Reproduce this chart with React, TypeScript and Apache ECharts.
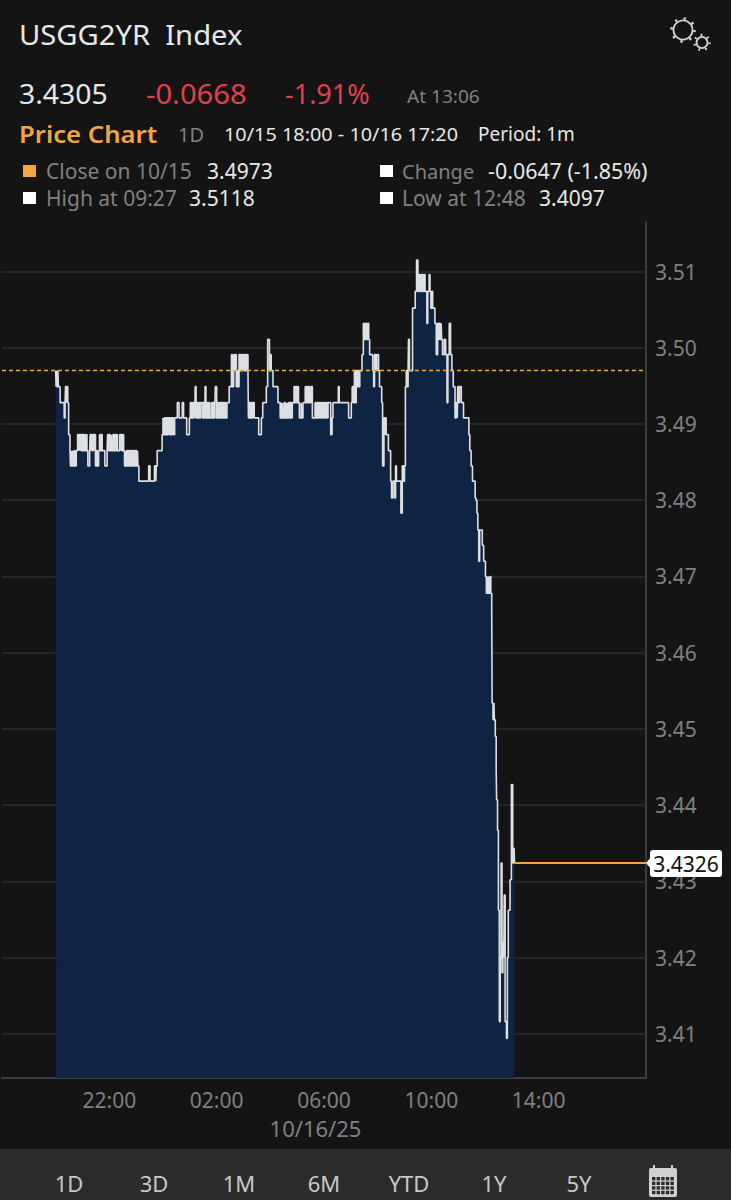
import React, { useEffect, useRef } from "react";
import * as echarts from "echarts";

// minutes since 10/15 18:00, yield
const overnightA: [number, number][] = [
  [120,3.497],[121,3.4949],[122,3.497],[123,3.4949],[125,3.497],[126,3.4949],[130,3.4928],[139,3.4908],[141,3.4928],[142,3.4949],[144,3.4928],[145,3.4949],[147,3.4928],[149,3.4886],[152,3.4865],[153,3.4845],[155,3.4865],[156,3.4845],[158,3.4865],[159,3.4845],[161,3.4865],[163,3.4845],[166,3.4865],[169,3.4886],[171,3.4865],[172,3.4886],[174,3.4865],[175,3.4886],[177,3.4865],[179,3.4886],[181,3.4865],[183,3.4886],[185,3.4865],[188,3.4886],[190,3.4865],[192,3.4845],[196,3.4865],[197,3.4886],[199,3.4865],[200,3.4886],[202,3.4865],[204,3.4886],[206,3.4865],[207,3.4886],[209,3.4845],[211,3.4865],[213,3.4845],[216,3.4865],[218,3.4886],[220,3.4865],[222,3.4886],[224,3.4865],[226,3.4865],[230,3.4845],[235,3.4865],[236,3.4886],[238,3.4865],[240,3.4886],[242,3.4865],[244,3.4886],[245,3.4865],[248,3.4886],[250,3.4865],[252,3.4886],[254,3.4865],[256,3.4886],[258,3.4865],[263,3.4886],[265,3.4865],[266,3.4886],[268,3.4865],[270,3.4886],[272,3.4865],[274,3.4845],[276,3.4865],[277,3.4845],[279,3.4865],[281,3.4845],[283,3.4865],[285,3.4845],[287,3.4865],[289,3.4845],[291,3.4865],[293,3.4845],[295,3.4865],[297,3.4845],[299,3.4865],[301,3.4845],[303,3.4865],[304,3.4845],[306,3.4825],[328,3.4845],[331,3.4825],[341,3.4845],[344,3.4825],[345,3.4845],[347,3.4865],[358,3.4886],[360,3.4908],[361,3.4886],[363,3.4908],[365,3.4886],[367,3.4908],[369,3.4886],[371,3.4908],[374,3.4886],[376,3.4908],[378,3.4886],[380,3.4908],[383,3.4886],[386,3.4908],
];

const overnightB: [number, number][] = [
  [392,3.4928],[396,3.4908],[403,3.4928],[406,3.4908],[413,3.4886],[419,3.4908],[421,3.4928],[423,3.4908],[425,3.4928],[427,3.4908],[429,3.4928],[431,3.4908],[432,3.4949],[434,3.4908],[436,3.4928],[438,3.4908],[440,3.4928],[442,3.4908],[444,3.4928],[446,3.4928],[448,3.4908],[450,3.4928],[452,3.4908],[454,3.4949],[456,3.4908],[458,3.4928],[460,3.4908],[462,3.4928],[464,3.4908],[466,3.4908],[468,3.4928],[470,3.4908],[472,3.4928],[474,3.4908],[476,3.4928],[477,3.4949],[480,3.4908],[482,3.4928],[484,3.4908],[486,3.4928],[488,3.4908],[490,3.4928],[492,3.4908],[494,3.4928],[496,3.4908],[498,3.4928],[500,3.4908],[503,3.4928],[508,3.4949],[513,3.4991],[515,3.4949],[518,3.4991],[520,3.497],[522,3.4991],[524,3.4949],[526,3.497],[528,3.4949],[530,3.4991],[532,3.497],[534,3.4991],[536,3.497],[538,3.4991],[541,3.497],[543,3.4991],[545,3.497],[547,3.4991],[550,3.497],[551,3.4908],[553,3.4928],[555,3.4908],[557,3.4928],[559,3.4908],[561,3.4928],[564,3.4908],[574,3.4886],[580,3.4908],[583,3.4928],[591,3.4949],[594,3.5011],[598,3.497],[600,3.4991],[602,3.497],[606,3.4949],[617,3.4928],[622,3.4908],[624,3.4928],[625,3.4908],[627,3.4928],[628,3.4908],[631,3.4928],[633,3.4908],[635,3.4928],[636,3.4908],[638,3.4928],[639,3.4908],[641,3.4928],[643,3.4908],[645,3.4928],[647,3.4908],[649,3.4928],[653,3.4949],[655,3.4928],[657,3.4949],[659,3.4928],[661,3.4949],[663,3.4928],[665,3.4908],[669,3.4928],[670,3.4908],[673,3.4928],[678,3.4949],[680,3.4928],[682,3.4949],[684,3.4928],[686,3.4949],[688,3.4928],[691,3.4949],[694,3.4908],[700,3.4928],[702,3.4908],[705,3.4928],[707,3.4908],[709,3.4928],[711,3.4908],[713,3.4928],[715,3.4908],[717,3.4928],[719,3.4908],[721,3.4928],[723,3.4908],[725,3.4928],[727,3.4908],[729,3.4928],[735,3.4886],[738,3.4908],[740,3.4928],[752,3.4949],[754,3.4928],[775,3.4908],[781,3.4928],[783,3.4949],[786,3.4928],[788,3.497],[790,3.4928],[792,3.497],[794,3.4949],[796,3.497],[798,3.4949],[800,3.497],[805,3.4991],[808,3.5032],[810,3.5011],[813,3.5032],[815,3.5011],[818,3.5032],[820,3.5011],[822,3.4991],[829,3.497],[831,3.4949],[833,3.4991],[836,3.497],[838,3.4991],[842,3.497],[844,3.4949],
];

const morning: [number, number][] = [
  [849,3.4928],[851,3.4845],[854,3.4908],[856,3.4886],[857,3.4908],[859,3.4886],[864,3.4865],[869,3.4825],[871,3.4803],[874,3.4825],[878,3.4803],[880,3.4845],[882,3.4825],[888,3.4825],[892,3.4783],[895,3.4845],[898,3.4825],[900,3.4845],[902,3.4949],[904,3.497],[906,3.4949],[908,3.497],[909,3.5011],[911,3.497],[918,3.5052],[924,3.5074],[927,3.5115],[930,3.5074],[932,3.5096],[934,3.5074],[936,3.5096],[938,3.5074],[940,3.5096],[942,3.5074],[944,3.5096],[946,3.5074],[950,3.5032],[952,3.5074],[955,3.5096],[957,3.5074],[959,3.5052],[961,3.5074],[963,3.5052],[968,3.5032],[971,3.4991],[974,3.5032],[976,3.5011],[978,3.5032],[980,3.5011],[982,3.5032],[983,3.5011],[985,3.4991],[989,3.5011],[992,3.4991],[995,3.4928],[997,3.4991],[1000,3.5032],[1003,3.4991],[1006,3.497],[1009,3.4949],[1013,3.4908],[1016,3.4928],[1018,3.4908],[1019,3.4949],[1021,3.4928],[1023,3.4949],[1025,3.4949],[1027,3.4928],[1032,3.4908],
];

const selloff: [number, number][] = [
  [1044,3.4886],[1046,3.4865],[1049,3.4845],[1052,3.4825],[1058,3.4803],[1060,3.48],[1062,3.4783],[1064,3.4761],[1066,3.472],[1068,3.4761],[1072,3.4761],[1074,3.4741],[1077,3.472],[1081,3.47],[1083,3.4678],[1085,3.47],[1086,3.4678],[1088,3.47],[1089,3.4678],[1091,3.47],[1093,3.4678],[1095,3.4656],[1096,3.4534],[1098,3.4512],[1100,3.4534],[1101,3.4512],[1103,3.449],[1105,3.4446],
];

const rebound: [number, number][] = [
  [1106,3.4407],[1108,3.4367],[1110,3.4262],[1112,3.4116],[1114,3.42],[1116,3.4324],[1118,3.418],[1120,3.4219],[1122,3.42],[1123,3.4282],[1125,3.4116],[1128,3.4094],[1130,3.42],[1132,3.4262],[1136,3.4302],[1139,3.4427],[1142,3.4324],[1145,3.4344],[1146,3.4324],
];

const pricePath = [...overnightA, ...overnightB, ...morning, ...selloff, ...rebound];

const yTicks = [3.41, 3.42, 3.43, 3.44, 3.45, 3.46, 3.47, 3.48, 3.49, 3.5, 3.51];
const xTicks = [240, 480, 720, 960, 1200];
const xLabels = ["22:00", "02:00", "06:00", "10:00", "14:00"];
const closeLine = 3.497;
const lastLine = 3.4324;
const lastLabel = "3.4326";
const ranges = ["1D", "3D", "1M", "6M", "YTD", "1Y", "5Y"];

const FONT = '"Noto Sans", sans-serif';
const GREY = "#808080";
const WHITE = "#e8e8e8";
const ORANGE = "#f3a545";
const RED = "#e2404f";

const txt = (text: string, x: number, y: number, size: number, fill: string, extra: any = {}) => ({
  type: "text",
  x,
  y,
  z: extra.z ?? 20,
  scaleX: extra.sx ?? 1,
  style: { text, fill, font: `${extra.weight || "normal"} ${size}px ${FONT}`, textVerticalAlign: "middle", textAlign: extra.align || "left" },
});

const gear = (cx: number, cy: number, r: number, teeth: number) => [
  { type: "circle", z: 20, shape: { cx, cy, r }, style: { fill: "none", stroke: "#d4d4d4", lineWidth: 1.8 } },
  {
    type: "circle",
    z: 20,
    shape: { cx, cy, r: r + 2 },
    style: { fill: "none", stroke: "#d4d4d4", lineWidth: 2.6, lineDash: [(Math.PI * (r + 2)) / (teeth * 2), (Math.PI * (r + 2) * 3) / (teeth * 2)] },
  },
];

const calendar = () => {
  const items: any[] = [
    { type: "rect", z: 20, shape: { x: 649, y: 1168, width: 28, height: 29, r: 2 }, style: { fill: "#d0d0d0" } },
    { type: "rect", z: 20, shape: { x: 653, y: 1165, width: 2, height: 5 }, style: { fill: "#d0d0d0" } },
    { type: "rect", z: 20, shape: { x: 671, y: 1165, width: 2, height: 5 }, style: { fill: "#d0d0d0" } },
  ];
  for (let r = 0; r < 4; r++)
    for (let c = 0; c < 5; c++)
      items.push({ type: "rect", z: 21, shape: { x: 652 + c * 4.6, y: 1177 + r * 4.6, width: 3.4, height: 3.4 }, style: { fill: "#2b2b2b" } });
  return items;
};

export default function App() {
  const ref = useRef<HTMLDivElement>(null);
  useEffect(() => {
    document.body.style.margin = "0";
    document.body.style.background = "#141414";
    const chart = echarts.init(ref.current!, null, { renderer: "svg" });
    chart.setOption({
      animation: false,
      backgroundColor: "#141414",
      textStyle: { fontFamily: FONT },
      grid: { left: 2, right: 85, top: 222, bottom: 122, containLabel: false },
      xAxis: {
        type: "value",
        min: 0,
        max: 1440,
        axisLine: { show: true, onZero: false, lineStyle: { color: "#3c3c3c", width: 2 } },
        splitLine: { show: false },
        axisTick: { show: false, customValues: xTicks },
        axisLabel: {
          customValues: xTicks,
          color: GREY,
          fontSize: 21,
          margin: 11,
          fontFamily: FONT,
          formatter: (v: number) => xLabels[xTicks.indexOf(v)] ?? "",
        },
      },
      yAxis: {
        type: "value",
        position: "right",
        min: 3.4042,
        max: 3.5165,
        axisLine: { show: true, onZero: false, lineStyle: { color: "#3c3c3c", width: 2 } },
        splitLine: { show: true, lineStyle: { color: "#2c2c2c", width: 1.5 } },
        axisTick: { show: false, customValues: yTicks },
        axisLabel: {
          customValues: yTicks,
          color: GREY,
          fontSize: 21,
          margin: 9,
          fontFamily: FONT,
          formatter: (v: number) => v.toFixed(2),
        },
      },
      series: [
        {
          type: "line",
          data: pricePath,
          step: "end",
          symbol: "none",
          clip: true,
          lineStyle: { color: "#dcdfe3", width: 1.6 },
          areaStyle: { color: "#0f2445", opacity: 0.94, origin: "start" },
          markLine: {
            silent: true,
            symbol: "none",
            animation: false,
            label: { show: false },
            data: [
              [
                { coord: [0, closeLine], lineStyle: { color: ORANGE, type: [4, 3], width: 1.3 } },
                { coord: [1440, closeLine] },
              ],
              [
                { coord: [pricePath[pricePath.length - 1][0], lastLine], lineStyle: { color: ORANGE, type: "solid", width: 2 } },
                { coord: [1440, lastLine] },
              ],
            ],
          },
        },
      ],
      graphic: [
        { type: "rect", z: 1, shape: { x: 0, y: 1149, width: 731, height: 51 }, style: { fill: "#2b2b2b" } },
        txt("USGG2YR  Index", 19, 34, 27, WHITE, { sx: 1.08 }),
        ...gear(683, 30, 9.5, 8),
        ...gear(702, 42.5, 5.5, 7),
        txt("3.4305", 19, 93, 27, WHITE, { sx: 1.05 }),
        txt("-0.0668", 146, 93, 27, RED, { sx: 1.08 }),
        txt("-1.91%", 285, 93, 27, RED),
        txt("At 13:06", 407, 96, 18, GREY, { sx: 1.06 }),
        txt("Price Chart", 19, 133, 24, ORANGE, { weight: 600, sx: 1.07 }),
        txt("1D", 178, 134, 20, GREY),
        txt("10/15 18:00 - 10/16 17:20", 224, 134, 19, WHITE, { sx: 1.045 }),
        txt("Period: 1m", 478, 134, 19, WHITE),
        { type: "rect", z: 20, shape: { x: 23, y: 165, width: 13, height: 12 }, style: { fill: ORANGE } },
        txt("Close on 10/15", 46, 171, 21, GREY),
        txt("3.4973", 207, 171, 21, WHITE),
        { type: "rect", z: 20, shape: { x: 380, y: 165, width: 13, height: 12 }, style: { fill: "#ffffff" } },
        txt("Change", 402, 171, 20, GREY),
        txt("-0.0647 (-1.85%)", 488, 171, 21, WHITE, { sx: 1.02 }),
        { type: "rect", z: 20, shape: { x: 23, y: 192, width: 13, height: 12 }, style: { fill: "#ffffff" } },
        txt("High at 09:27", 46, 198, 21, GREY),
        txt("3.5118", 189, 198, 21, WHITE),
        { type: "rect", z: 20, shape: { x: 380, y: 192, width: 13, height: 12 }, style: { fill: "#ffffff" } },
        txt("Low at 12:48", 402, 198, 21, GREY),
        txt("3.4097", 539, 198, 21, WHITE),
        txt("10/16/25", 315.5, 1128, 22, GREY, { align: "center" }),
        ...ranges.map((r, i) => txt(r, 69 + i * 85, 1183, 22, "#c8c8c8", { align: "center" })),
        ...calendar(),
        { type: "polygon", z: 30, shape: { points: [[646, 863], [652, 856], [652, 870]] }, style: { fill: "#ffffff" } },
        { type: "rect", z: 30, shape: { x: 650, y: 850, width: 72, height: 27, r: 3 }, style: { fill: "#ffffff" } },
        txt(lastLabel, 686, 864, 21, "#111111", { align: "center", z: 31 }),
      ],
    });
    return () => chart.dispose();
  }, []);
  return <div ref={ref} style={{ width: 731, height: 1200 }} />;
}
